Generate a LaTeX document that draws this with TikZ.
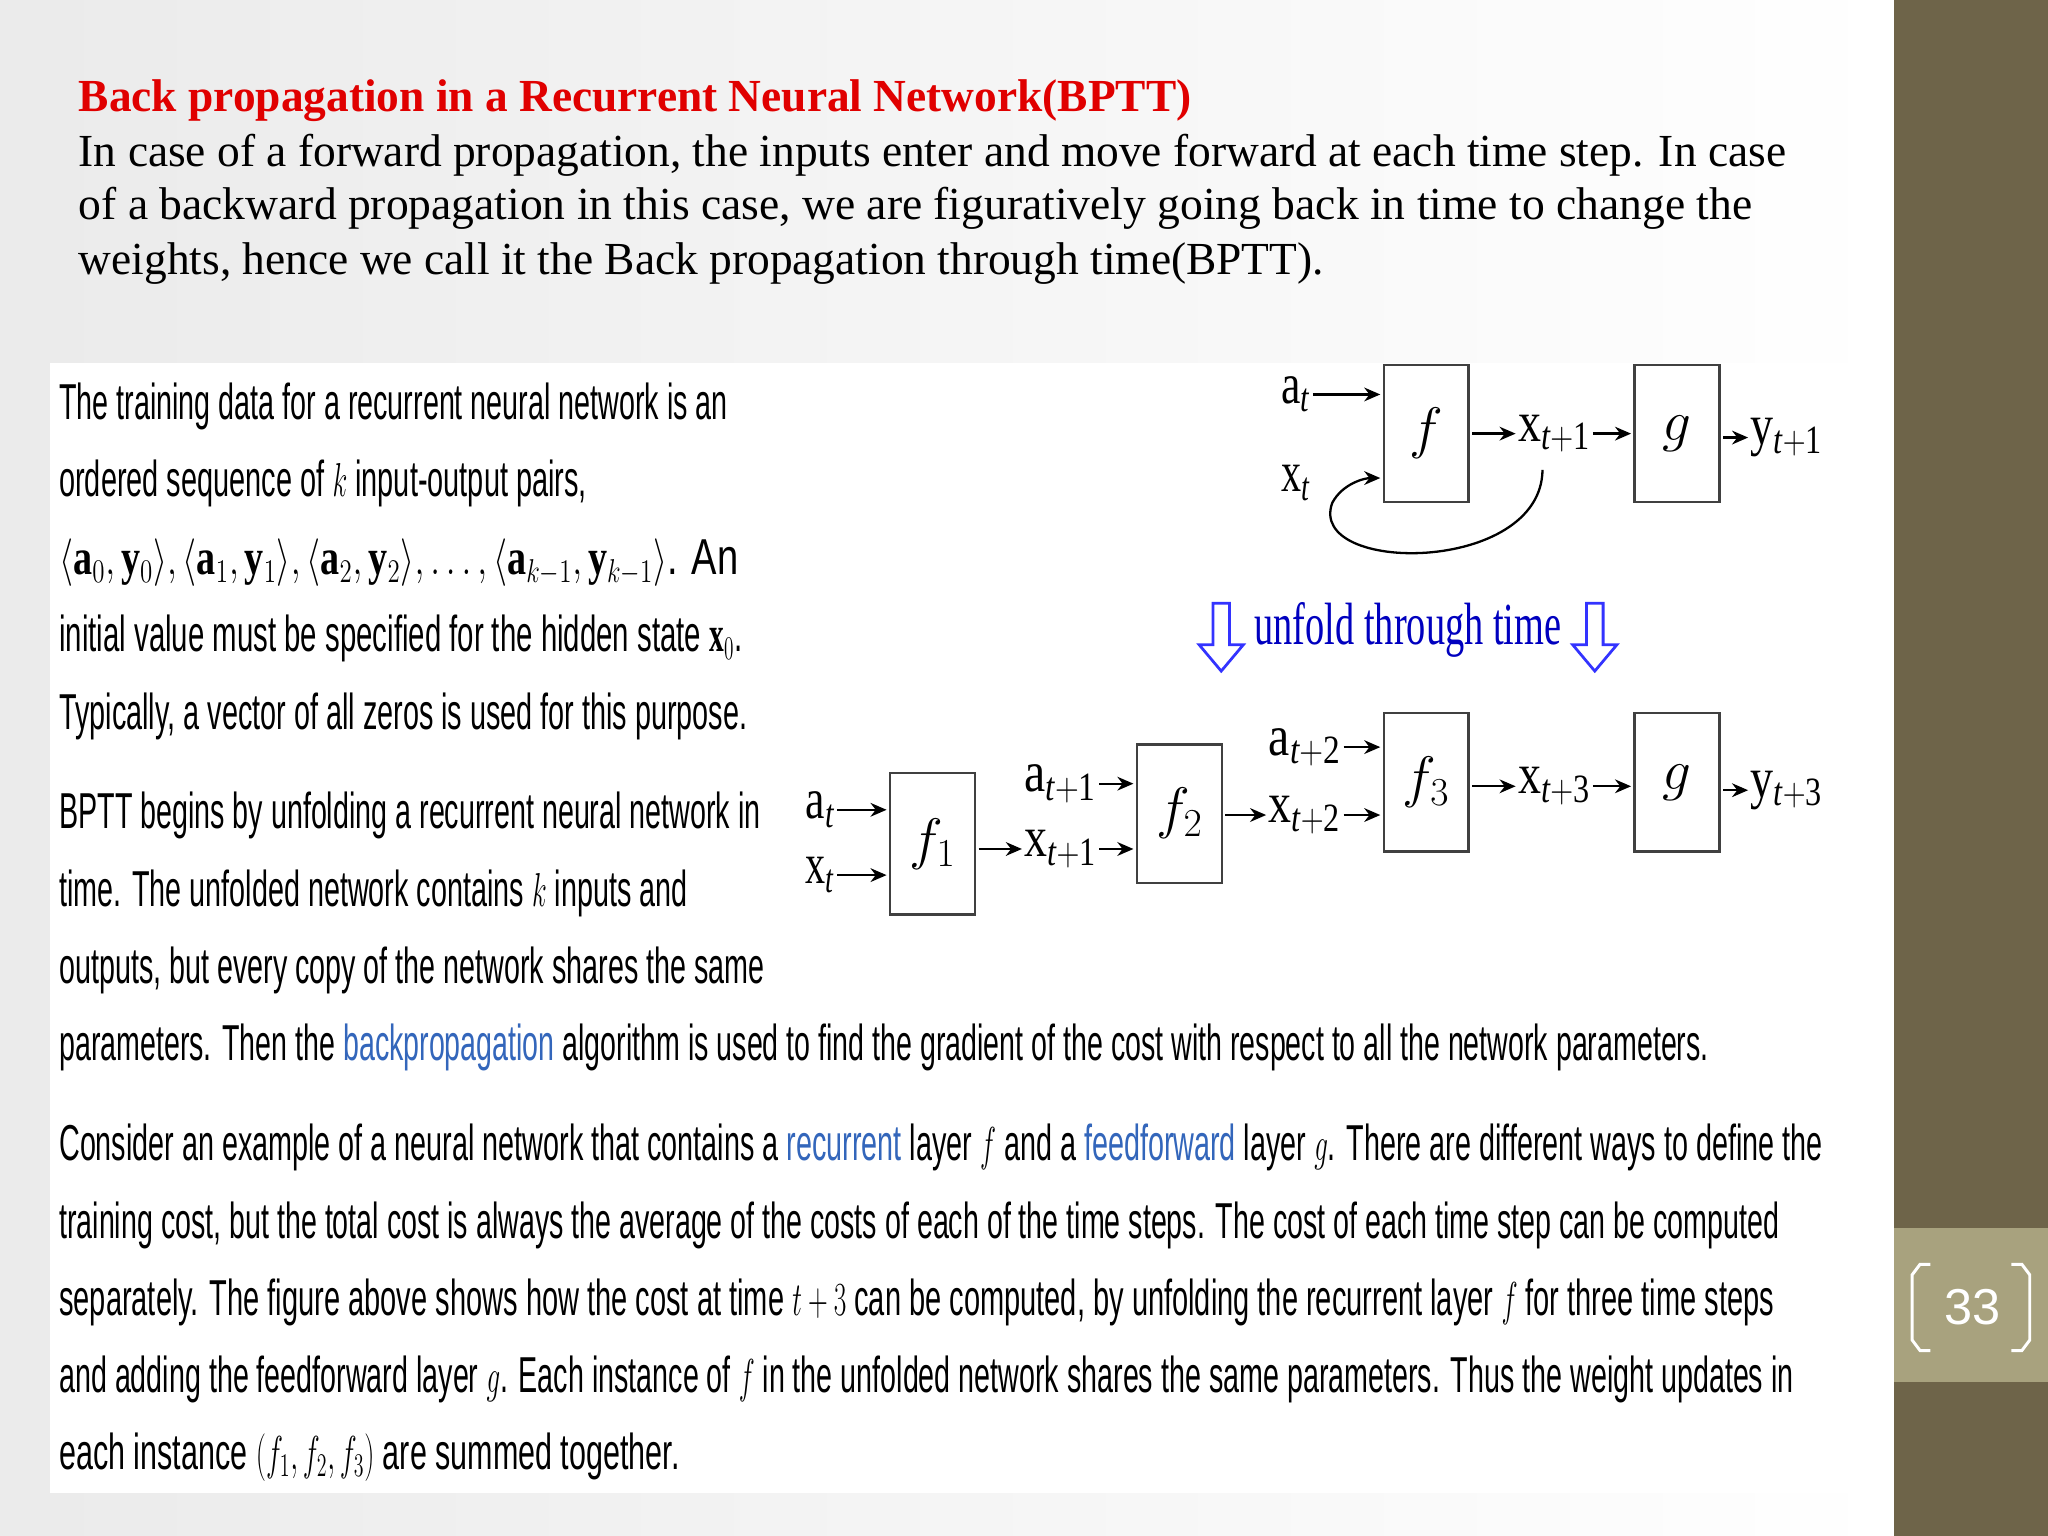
\documentclass[tikz,border=0pt]{standalone}
\usepackage{fontspec}
\usepackage{graphicx}
\setmainfont{Liberation Serif}
\newfontfamily\body{Liberation Sans}
\usetikzlibrary{shapes.arrows,arrows.meta}
\newdimen\wunit \wunit=0.02cm
\definecolor{olive}{HTML}{6E6449}
\definecolor{olivelt}{HTML}{A8A27E}
\definecolor{link}{HTML}{3366BB}
\definecolor{ttl}{HTML}{E00000}
\newcommand\tl[4]{\node[anchor=west,inner sep=0] (#1) at (45,#2) {\resizebox{#3\wunit}{\height}{\body\fontsize{22}{26}\selectfont\strut #4}};}
\newcommand\hl[4]{\node[anchor=west,inner sep=0] (#1) at (60,#2) {\resizebox{#3\wunit}{\height}{\fontsize{20}{24}\selectfont\strut #4}};}
\newcommand\dl[2]{\resizebox{#1\wunit}{\height}{$\mathrm{#2}$}}
\begin{document}
\begin{tikzpicture}[x=0.02cm,y=-0.02cm,
  bx/.style={draw=black!75,line width=1.1pt,minimum width=65\wunit},
  lb/.style={inner sep=0pt,font=\fontsize{25}{25}\selectfont},
  ar/.style={-{Stealth[length=7pt,width=6pt]},line width=1pt,shorten >=1pt,shorten <=1pt},
  uarr/.style={single arrow,draw=blue!80,line width=1.2pt,fill=white,shape border rotate=270,minimum height=52\wunit,minimum width=34\wunit,single arrow head extend=6pt,single arrow tip angle=80,inner sep=3pt}]
\useasboundingbox (0,0) rectangle (1568,1176);
\shade[left color=black!8,right color=white] (0,0) rectangle (1450,1176);
\fill[olive] (1450,0) rectangle (1568,1176);
\fill[olivelt] (1450,940) rectangle (1568,1058);
\draw[white,line width=1.3pt] (1478,968) -- (1470,968) -- (1464,976) -- (1464,1026) -- (1470,1034) -- (1478,1034);
\draw[white,line width=1.3pt] (1540,968) -- (1548,968) -- (1554,976) -- (1554,1026) -- (1548,1034) -- (1540,1034);
\node[text=white,font=\fontsize{22}{22}\selectfont\body] (num) at (1510,1001) {33};
\fill[white] (38,278) rectangle (1415,1143);
% header text
\hl{t0}{77}{852}{\color{ttl}\bfseries Back propagation in a Recurrent Neural Network(BPTT)}
\hl{t1}{119}{1307}{In case of a forward propagation, the inputs enter and move forward at each time step. In case}
\hl{t2}{160}{1281}{of a backward propagation in this case, we are figuratively going back in time to change the}
\hl{t3}{202}{953}{weights, hence we call it the Back propagation through time(BPTT).}
% left text
\tl{l1}{312}{512}{The training data for a recurrent neural network is an}
\tl{l2}{371}{404}{ordered sequence of $k$ input-output pairs,}
\tl{l3}{431}{520}{$\langle\mathbf{a}_0,\mathbf{y}_0\rangle,\langle\mathbf{a}_1,\mathbf{y}_1\rangle,\langle\mathbf{a}_2,\mathbf{y}_2\rangle,\ldots,\langle\mathbf{a}_{k-1},\mathbf{y}_{k-1}\rangle$. An}
\tl{l4}{490}{523}{initial value must be specified for the hidden state $\mathbf{x}_0$.}
\tl{l5}{549}{527}{Typically, a vector of all zeros is used for this purpose.}
\tl{l6}{625}{537}{BPTT begins by unfolding a recurrent neural network in}
\tl{l7}{685}{481}{time. The unfolded network contains $k$ inputs and}
\tl{l8}{744}{540}{outputs, but every copy of the network shares the same}
\tl{l9}{803}{1263}{parameters. Then the \textcolor{link}{backpropagation} algorithm is used to find the gradient of the cost with respect to all the network parameters.}
\tl{l10}{879}{1350}{Consider an example of a neural network that contains a \textcolor{link}{recurrent} layer $f$ and a \textcolor{link}{feedforward} layer $g$. There are different ways to define the}
\tl{l11}{939}{1317}{training cost, but the total cost is always the average of the costs of each of the time steps. The cost of each time step can be computed}
\tl{l12}{998}{1313}{separately. The figure above shows how the cost at time $t+3$ can be computed, by unfolding the recurrent layer $f$ for three time steps}
\tl{l13}{1057}{1328}{and adding the feedforward layer $g$. Each instance of $f$ in the unfolded network shares the same parameters. Thus the weight updates in}
\tl{l14}{1116}{475}{each instance $(f_1,f_2,f_3)$ are summed together.}
% top diagram
\node[bx,minimum height=105\wunit] (f) at (1092,332) {};
\node[lb] at (f) {$f$};
\node[bx,minimum height=105\wunit] (g) at (1284,332) {};
\node[lb] at (g) {$g$};
\node[lb] (at) at (992,302) {\dl{22}{a_\mathit{t}}};
\node[lb] (xt) at (992,370) {\dl{22}{x_\mathit{t}}};
\node[lb] (xt1) at (1190,332) {\dl{55}{x_{\mathit{t}+1}}};
\node[lb] (yt1) at (1368,335) {\dl{55}{y_{\mathit{t}+1}}};
\draw[ar] (at.east) -- (f.west |- at.east);
\draw[ar] (f.east |- xt1) -- (xt1.west);
\draw[ar] (xt1.east) -- (g.west |- xt1);
\draw[ar] (g.east |- yt1) -- (yt1.west);
\coordinate (lp) at (1181,358);
\draw[ar] (lp) .. controls (1180,440) and (1000,440) .. (1020,385) .. controls (1028,370) and (1045,366) .. (f.west |- 0,366);
% unfold
\node[uarr] (u1) at (935,484) {};
\node[uarr] (u2) at (1221,484) {};
\node[text=blue!75!black,font=\fontsize{26}{26}\selectfont] (ut) at (1078,482) {\resizebox{235\wunit}{\height}{unfold through time}};
% bottom diagram
\node[bx,minimum height=108\wunit] (f1) at (714,646) {};
\node[lb] at (f1) {$f_1$};
\node[bx,minimum height=106\wunit] (f2) at (903,623) {};
\node[lb] at (f2) {$f_2$};
\node[bx,minimum height=106\wunit] (f3) at (1092,599) {};
\node[lb] at (f3) {$f_3$};
\node[bx,minimum height=106\wunit] (g2) at (1284,599) {};
\node[lb] at (g2) {$g$};
\node[lb] (a0) at (628,620) {\dl{22}{a_\mathit{t}}};
\node[lb] (x0) at (628,670) {\dl{22}{x_\mathit{t}}};
\node[lb] (a1) at (812,600) {\dl{55}{a_{\mathit{t}+1}}};
\node[lb] (x1) at (812,650) {\dl{55}{x_{\mathit{t}+1}}};
\node[lb] (a2) at (999,572) {\dl{55}{a_{\mathit{t}+2}}};
\node[lb] (x2) at (999,624) {\dl{55}{x_{\mathit{t}+2}}};
\node[lb] (x3) at (1190,602) {\dl{55}{x_{\mathit{t}+3}}};
\node[lb] (y3) at (1368,605) {\dl{55}{y_{\mathit{t}+3}}};
\draw[ar] (a0.east) -- (f1.west |- a0.east);
\draw[ar] (x0.east) -- (f1.west |- x0.east);
\draw[ar] (f1.east |- x1) -- (x1.west);
\draw[ar] (a1.east) -- (f2.west |- a1.east);
\draw[ar] (x1.east) -- (f2.west |- x1.east);
\draw[ar] (f2.east |- x2) -- (x2.west);
\draw[ar] (a2.east) -- (f3.west |- a2.east);
\draw[ar] (x2.east) -- (f3.west |- x2.east);
\draw[ar] (f3.east |- x3) -- (x3.west);
\draw[ar] (x3.east) -- (g2.west |- x3);
\draw[ar] (g2.east |- y3) -- (y3.west);
\end{tikzpicture}
\end{document}
